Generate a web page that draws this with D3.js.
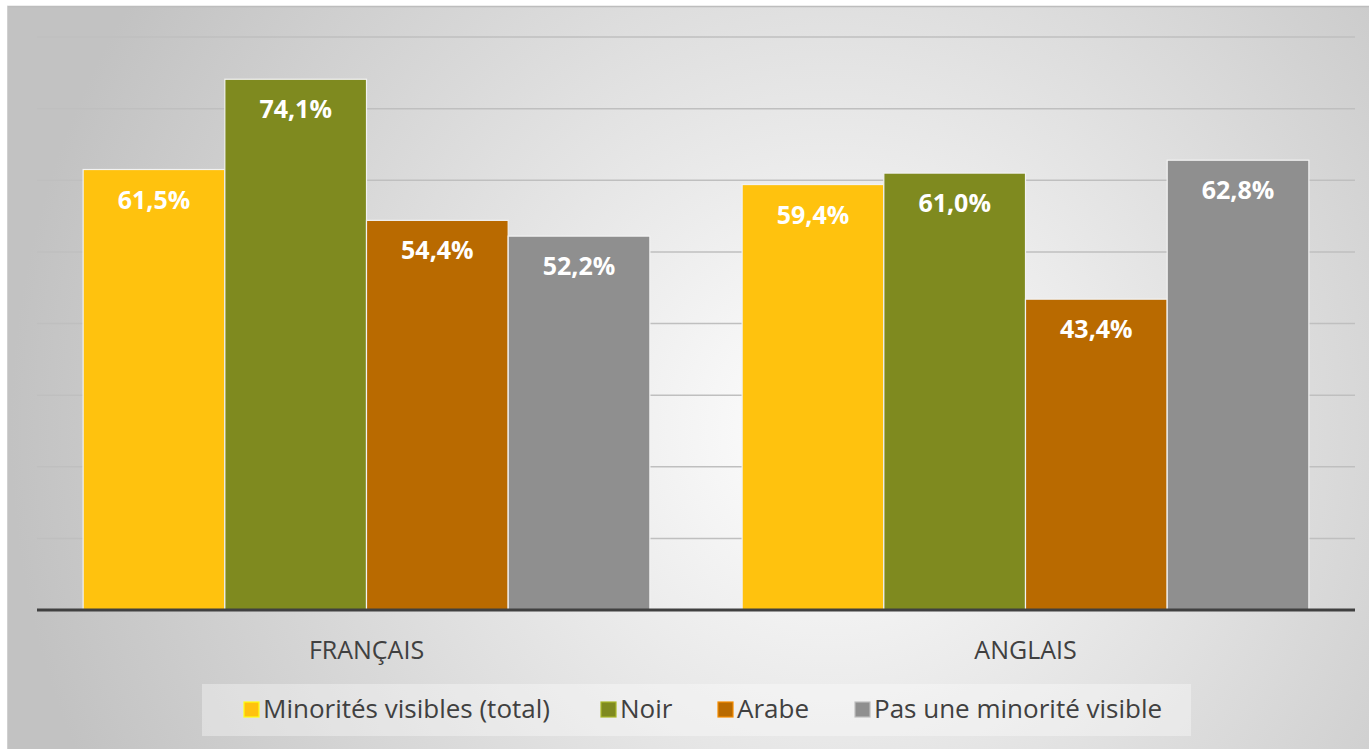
<!DOCTYPE html>
<html><head><meta charset="utf-8">
<script src="https://cdn.jsdelivr.net/npm/d3@7"></script>
<style>html,body{margin:0;padding:0;background:#fff;overflow:hidden}</style>
</head><body>
<svg id="c" width="1369" height="749"></svg>
<script>
const groups = ["FRANÇAIS", "ANGLAIS"];
const series = ["Minorités visibles (total)", "Noir", "Arabe", "Pas une minorité visible"];
const francais = [61.5, 74.1, 54.4, 52.2];
const anglais = [59.4, 61.0, 43.4, 62.8];
const gridTicks = [10, 20, 30, 40, 50, 60, 70, 80];
const colors = ["#FFC20E", "#7F8A1F", "#B96A00", "#8F8F8F"];

const values = [francais, anglais];
const svg = d3.select("#c");
const W = 1369, H = 749;
const defs = svg.append("defs");
const rg = defs.append("radialGradient").attr("id","bg").attr("gradientUnits","userSpaceOnUse")
  .attr("cx",830).attr("cy",430).attr("r",820);
rg.append("stop").attr("offset","0").attr("stop-color","#ffffff");
rg.append("stop").attr("offset","1").attr("stop-color","#c2c2c2");
svg.append("rect").attr("x",7).attr("y",6).attr("width",W-7).attr("height",H-6).attr("fill","url(#bg)");
svg.append("line").attr("x1",7).attr("x2",W).attr("y1",6.5).attr("y2",6.5).attr("stroke","#bdbdbd").attr("stroke-width",1.5);
svg.append("line").attr("x1",7.5).attr("x2",7.5).attr("y1",6).attr("y2",H).attr("stroke","#d0d0d0").attr("stroke-width",1);

const left = 37, right = 1355, baseY = 610, topY = 37;
const y = d3.scaleLinear().domain([0,80]).range([baseY, topY]);
const x0 = d3.scaleBand().domain(groups).range([left,right]).paddingInner(0.14).paddingOuter(0.07);
const x1 = d3.scaleBand().domain(series).range([0, x0.bandwidth()]);

svg.append("g").selectAll("line").data(gridTicks).join("line")
  .attr("x1",left).attr("x2",right).attr("y1",d=>y(d)).attr("y2",d=>y(d))
  .attr("stroke","#bfbfbf").attr("stroke-width",1.5);

const g = svg.append("g").selectAll("g").data(groups).join("g")
  .attr("transform",d=>`translate(${x0(d)},0)`);
g.selectAll("rect").data((d,i)=>values[i].map((v,j)=>({v,s:series[j],c:colors[j]}))).join("rect")
  .attr("x",d=>x1(d.s)).attr("width",x1.bandwidth())
  .attr("y",d=>y(d.v)).attr("height",d=>baseY-y(d.v))
  .attr("fill",d=>d.c).attr("stroke","#f2f2f2").attr("stroke-width",1.2);
g.selectAll("text").data((d,i)=>values[i].map((v,j)=>({v,s:series[j]}))).join("text")
  .attr("x",d=>x1(d.s)+x1.bandwidth()/2).attr("y",d=>y(d.v)+39)
  .attr("text-anchor","middle").attr("fill","#fff")
  .attr("font-family","'Open Sans', sans-serif").attr("font-weight","bold").attr("font-size",25)
  .text(d=>d3.format(".1f")(d.v).replace(".",",")+"%");

svg.append("line").attr("x1",left).attr("x2",right).attr("y1",baseY).attr("y2",baseY)
  .attr("stroke","#404040").attr("stroke-width",3);

const xAxis = d3.axisBottom(x0).tickSize(0).tickPadding(0);
const ax = svg.append("g").attr("transform",`translate(0,${baseY})`).call(xAxis);
ax.select(".domain").remove();
ax.selectAll("text").attr("y",49).attr("dy",0).attr("fill","#404040")
  .attr("font-family","'Open Sans', sans-serif").attr("font-size",25);

// legend
const lg = svg.append("g");
lg.append("rect").attr("x",202).attr("y",684).attr("width",989).attr("height",52).attr("fill","#ffffff").attr("fill-opacity",0.35);
const legX = [244, 601, 718, 855];
series.forEach((s,i)=>{
  lg.append("rect").attr("x",legX[i]).attr("y",702).attr("width",15).attr("height",15)
    .attr("fill",colors[i]).attr("stroke",d3.color(colors[i]).brighter(0.8)).attr("stroke-width",1.2);
  lg.append("text").attr("x",legX[i]+19).attr("y",718).attr("fill","#404040")
    .attr("font-family","'Open Sans', sans-serif").attr("font-size",26).text(s);
});
</script>
</body></html>
